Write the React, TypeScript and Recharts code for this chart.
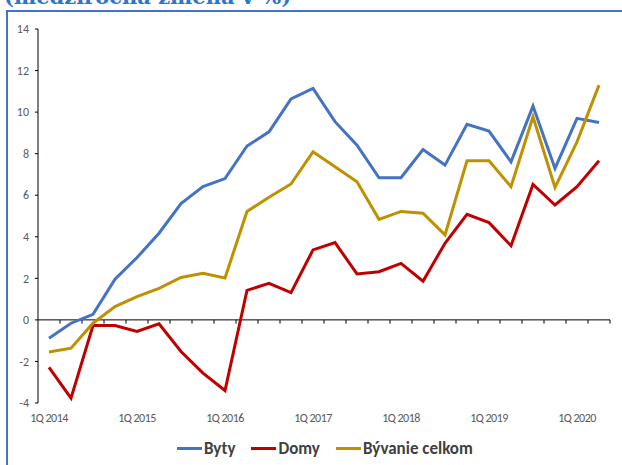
import { LineChart, Line, XAxis, YAxis, ReferenceLine } from 'recharts';

const QUARTERS = [
  '1Q 2014', '2Q 2014', '3Q 2014', '4Q 2014',
  '1Q 2015', '2Q 2015', '3Q 2015', '4Q 2015',
  '1Q 2016', '2Q 2016', '3Q 2016', '4Q 2016',
  '1Q 2017', '2Q 2017', '3Q 2017', '4Q 2017',
  '1Q 2018', '2Q 2018', '3Q 2018', '4Q 2018',
  '1Q 2019', '2Q 2019', '3Q 2019', '4Q 2019',
  '1Q 2020', '2Q 2020',
];

const BYTY = [
  -0.88, -0.16, 0.27, 1.96, 3.0, 4.17, 5.6, 6.42, 6.8, 8.37, 9.05, 10.63, 11.14,
  9.54, 8.41, 6.84, 6.84, 8.2, 7.45, 9.41, 9.09, 7.61, 10.29, 7.29, 9.7, 9.5,
];
const DOMY = [
  -2.29, -3.77, -0.27, -0.27, -0.56, -0.19, -1.52, -2.56, -3.4, 1.42, 1.76, 1.31, 3.37,
  3.72, 2.21, 2.32, 2.72, 1.86, 3.69, 5.08, 4.68, 3.57, 6.52, 5.53, 6.41, 7.66,
];
const BYVANIE = [
  -1.55, -1.36, -0.16, 0.64, 1.12, 1.52, 2.04, 2.24, 2.02, 5.22, 5.9, 6.54, 8.09,
  7.37, 6.65, 4.84, 5.22, 5.13, 4.09, 7.66, 7.66, 6.41, 9.78, 6.38, 8.57, 11.3,
];

const Y_TICKS = [-4, -2, 0, 2, 4, 6, 8, 10, 12, 14];

const SERIES = [
  { key: 'byty', name: 'Byty', color: '#4472c4' },
  { key: 'domy', name: 'Domy', color: '#c00000' },
  { key: 'spolu', name: 'Bývanie celkom', color: '#bf9000' },
];

const data = QUARTERS.map((q, i) => ({
  q,
  i,
  byty: BYTY[i],
  domy: DOMY[i],
  spolu: BYVANIE[i],
}));

// only the first quarter of each year gets a label
const labelTicks = QUARTERS.map((q, i) => (q.startsWith('1Q') ? i : -1)).filter((i) => i >= 0);

const font = 'Carlito, Lato, "Liberation Sans", sans-serif';

export default function App() {
  return (
    <div
      style={{
        position: 'fixed',
        left: 0,
        top: 0,
        width: 622,
        height: 465,
        background: '#fff',
        overflow: 'hidden',
      }}
    >
      <div
        style={{
          position: 'absolute',
          left: 4,
          top: -16,
          fontFamily: '"DejaVu Serif", serif',
          fontWeight: 'bold',
          fontSize: 21,
          color: '#2f75c8',
          whiteSpace: 'nowrap',
        }}
      >
        (medziročná zmena v %)
      </div>
      <div
        style={{
          position: 'absolute',
          left: 6,
          top: 10,
          width: 700,
          height: 600,
          border: '2px solid #4472c4',
        }}
      />
      <div style={{ position: 'absolute', left: 0, top: 0 }}>
        <LineChart
          width={622}
          height={465}
          data={data}
          margin={{ top: 29, right: 12, left: 0, bottom: 40 }}
        >
          <XAxis
            dataKey="i"
            type="number"
            domain={[-0.5, 25.5]}
            ticks={labelTicks}
            interval={0}
            tickFormatter={(v: number) => QUARTERS[v]}
            axisLine={false}
            tickLine={false}
            tickMargin={4}
            height={22}
            tick={{ fill: '#595959', fontSize: 12, fontFamily: font, letterSpacing: -0.5 }}
          />
          <YAxis
            domain={[-4, 14]}
            ticks={Y_TICKS}
            interval={0}
            width={38}
            axisLine={{ stroke: '#000' }}
            tickLine={{ stroke: '#000' }}
            tickSize={3}
            tickMargin={6}
            tick={{ fill: '#595959', fontSize: 12, fontFamily: font }}
          />
          <ReferenceLine y={0} stroke="#000" strokeWidth={1} />
          {QUARTERS.map((q, k) => (
            <ReferenceLine
              key={q}
              segment={[
                { x: k + 0.5, y: 0 },
                { x: k + 0.5, y: -0.18 },
              ]}
              stroke="#000"
            />
          ))}
          {SERIES.map((s) => (
            <Line
              key={s.key}
              type="linear"
              dataKey={s.key}
              name={s.name}
              stroke={s.color}
              strokeWidth={3}
              dot={false}
              isAnimationActive={false}
            />
          ))}
        </LineChart>
      </div>
      <div
        style={{
          position: 'absolute',
          left: 177,
          top: 438,
          display: 'flex',
          gap: 16,
          fontFamily: font,
          fontWeight: 'bold',
          fontSize: 17,
          color: '#404040',
          whiteSpace: 'nowrap',
        }}
      >
        {SERIES.map((s) => (
          <div key={s.key} style={{ display: 'flex', alignItems: 'center', gap: 2 }}>
            <span style={{ width: 25, height: 3, background: s.color, display: 'inline-block' }} />
            <span>{s.name}</span>
          </div>
        ))}
      </div>
    </div>
  );
}
